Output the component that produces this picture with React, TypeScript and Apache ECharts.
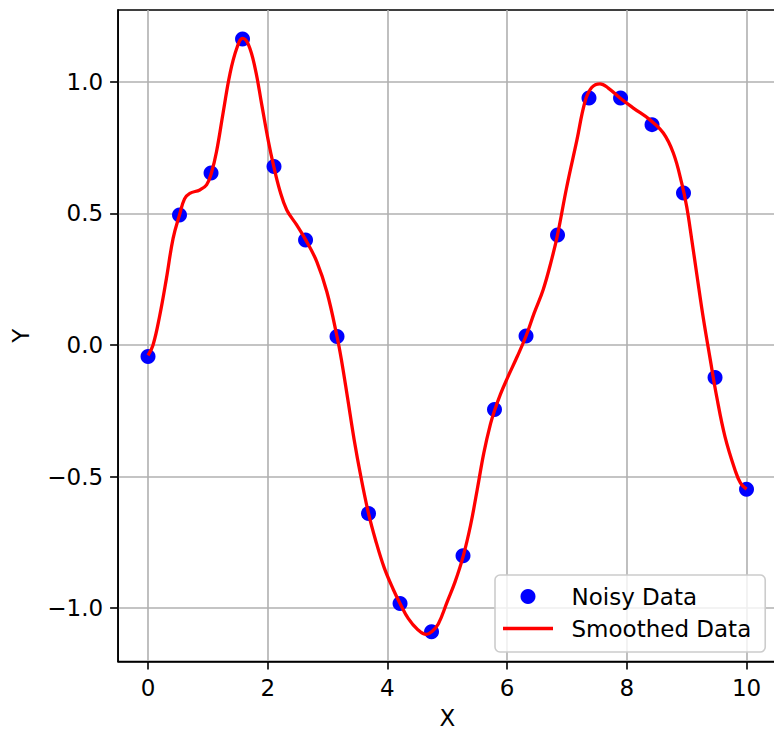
import React, { useEffect, useRef } from "react";
import * as echarts from "echarts";

// Noisy data (scatter)
const noisyX = [0, 0.526, 1.053, 1.579, 2.105, 2.632, 3.158, 3.684, 4.211, 4.737, 5.263, 5.789, 6.316, 6.842, 7.368, 7.895, 8.421, 8.947, 9.474, 10];
const noisyY = [-0.044, 0.494, 0.653, 1.162, 0.678, 0.399, 0.032, -0.64, -0.982, -1.09, -0.801, -0.245, 0.034, 0.418, 0.938, 0.938, 0.837, 0.577, -0.124, -0.548];

// Smoothed curve
const curveX = [
  0, 0.084, 0.196, 0.307, 0.419, 0.526, 0.61, 0.698, 0.866, 0.978,
  1.061, 1.145, 1.257, 1.369, 1.48, 1.579, 1.676, 1.788, 1.9, 2.011,
  2.095, 2.207, 2.318, 2.486, 2.632, 2.821, 2.989, 3.158, 3.236, 3.333,
  3.444, 3.556, 3.684, 3.8, 3.944, 4.1, 4.211, 4.35, 4.5, 4.65,
  4.737, 4.85, 5.0, 5.13, 5.263, 5.389, 5.5, 5.611, 5.722, 5.789,
  5.889, 6.0, 6.167, 6.316, 6.45, 6.605, 6.75, 6.842, 6.996, 7.163,
  7.302, 7.413, 7.552, 7.69, 7.886, 8.109, 8.388, 8.61, 8.777, 8.917,
  9.0, 9.085, 9.168, 9.279, 9.39, 9.502, 9.641, 9.808, 9.9, 10,
];
const curveY = [
  -0.04, 0.0, 0.112, 0.252, 0.405, 0.494, 0.555, 0.576, 0.589, 0.608,
  0.655, 0.735, 0.885, 1.03, 1.125, 1.165, 1.142, 1.053, 0.913, 0.774,
  0.684, 0.583, 0.513, 0.455, 0.4, 0.316, 0.201, 0.032, -0.063, -0.2,
  -0.36, -0.5, -0.64, -0.74, -0.845, -0.93, -0.982, -1.04, -1.08, -1.1,
  -1.09, -1.06, -0.975, -0.9, -0.805, -0.685, -0.55, -0.41, -0.3, -0.25,
  -0.187, -0.128, -0.045, 0.034, 0.12, 0.212, 0.33, 0.418, 0.6, 0.775,
  0.925, 0.978, 0.992, 0.976, 0.938, 0.9, 0.855, 0.805, 0.729, 0.615,
  0.526, 0.4, 0.27, 0.1, -0.05, -0.197, -0.349, -0.475, -0.525, -0.548,
];

const xTicks = [0, 2, 4, 6, 8, 10];
const yTicks = [-1, -0.5, 0, 0.5, 1];

const FONT = "DejaVu Sans";
const FS = 23;

export default function App() {
  const ref = useRef<HTMLDivElement>(null);

  useEffect(() => {
    const chart = echarts.init(ref.current!, null, { renderer: "svg", width: 774, height: 730 });
    const scatterData = noisyX.map((x, i) => [x, noisyY[i]]);
    const lineData = curveX.map((x, i) => [x, curveY[i]]);
    const axisLine = { show: true, onZero: false, lineStyle: { color: "#000", width: 1.6 } };
    const splitLine = { show: true, lineStyle: { color: "#b0b0b0", width: 1.6 } };
    chart.setOption({
      animation: false,
      backgroundColor: "#ffffff",
      grid: {
        left: 118.1,
        top: 10,
        width: 658.35,
        height: 651.45,
        show: true,
        borderColor: "#000",
        borderWidth: 1.6,
        backgroundColor: "transparent",
        containLabel: false,
        outerBoundsMode: "none",
      },
      xAxis: {
        type: "value",
        min: -0.5,
        max: 10.5,
        splitNumber: 5,
        name: "X",
        nameLocation: "middle",
        nameGap: 45,
        nameTextStyle: { fontFamily: FONT, fontSize: FS, color: "#000" },
        axisLine,
        axisTick: { show: true, length: 8, customValues: xTicks, lineStyle: { color: "#000", width: 1.6 } },
        axisLabel: {
          customValues: xTicks,
          margin: 15.5,
          fontFamily: FONT,
          fontSize: FS,
          color: "#000",
          formatter: (v: number) => String(v),
        },
        splitLine,
      },
      yAxis: {
        type: "value",
        min: -1.2025,
        max: 1.2725,
        splitNumber: 5,
        name: "Y",
        nameLocation: "middle",
        nameGap: 86,
        nameRotate: 90,
        nameTextStyle: { fontFamily: FONT, fontSize: FS, color: "#000" },
        axisLine,
        axisTick: { show: true, length: 8, customValues: yTicks, lineStyle: { color: "#000", width: 1.6 } },
        axisLabel: {
          customValues: yTicks,
          margin: 15,
          fontFamily: FONT,
          fontSize: FS,
          color: "#000",
          formatter: (v: number) => (v < 0 ? "\u2212" + Math.abs(v).toFixed(1) : v.toFixed(1)),
        },
        splitLine,
      },
      legend: {
        orient: "vertical",
        left: 495,
        top: 575,
        padding: [10, 14, 12, 8],
        itemWidth: 50,
        itemHeight: 15,
        itemGap: 9,
        backgroundColor: "rgba(255,255,255,0.8)",
        borderColor: "#cccccc",
        borderWidth: 1.6,
        borderRadius: 5,
        textStyle: { fontFamily: FONT, fontSize: FS, color: "#000", padding: [0, 0, 0, 13.5] },
        data: [
          { name: "Noisy Data", icon: "circle" },
          { name: "Smoothed Data", icon: "path://M0 0H50V3.3H0Z" },
        ],
      },
      series: [
        {
          name: "Noisy Data",
          type: "scatter",
          data: scatterData,
          symbol: "circle",
          symbolSize: 15,
          itemStyle: { color: "#0000ff", opacity: 1 },
          z: 2,
        },
        {
          name: "Smoothed Data",
          type: "line",
          data: lineData,
          smooth: 0.4,
          symbol: "none",
          showSymbol: false,
          lineStyle: { color: "#ff0000", width: 3.3 },
          itemStyle: { color: "#ff0000" },
          z: 3,
        },
      ],
    });
    return () => chart.dispose();
  }, []);

  return (
    <div
      ref={ref}
      style={{ position: "fixed", left: 0, top: 0, width: 774, height: 730, background: "#fff", overflow: "hidden" }}
    />
  );
}
